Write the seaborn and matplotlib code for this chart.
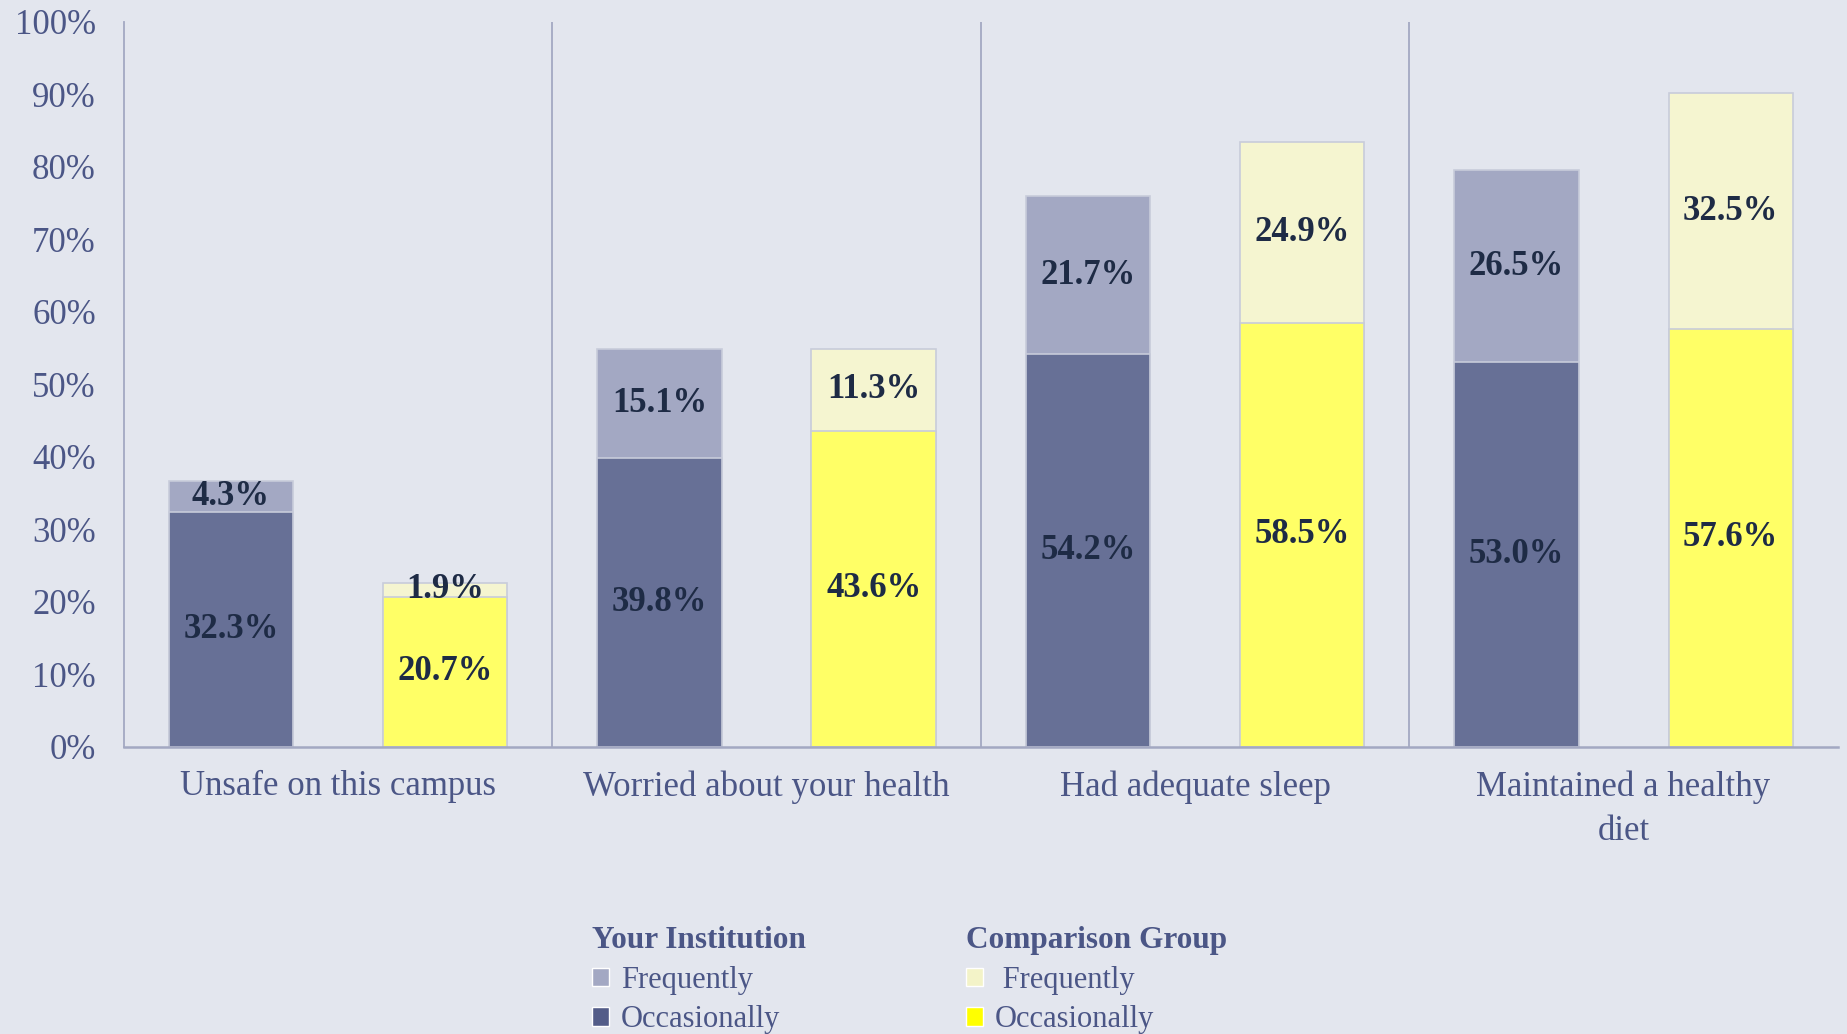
import pandas as pd
import matplotlib.pyplot as plt
import seaborn as sns
from matplotlib.patches import Patch

categories = ["Unsafe on this campus", "Worried about your health",
              "Had adequate sleep", "Maintained a healthy\ndiet"]
groups = ["Your Institution", "Comparison Group"]

inst_occasionally = [32.3, 39.8, 54.2, 53.0]
inst_frequently = [4.3, 15.1, 21.7, 26.5]
comp_occasionally = [20.7, 43.6, 58.5, 57.6]
comp_frequently = [1.9, 11.3, 24.9, 32.5]

bg = "#E3E6EE"
tick_col = "#4B5686"
label_col = "#1E2B45"
line_col = "#A3A8C2"

rows = []
for i, c in enumerate(categories):
    rows.append([c, groups[0], inst_occasionally[i], inst_frequently[i]])
    rows.append([c, groups[1], comp_occasionally[i], comp_frequently[i]])
df = pd.DataFrame(rows, columns=["Item", "Group", "Occasionally", "Frequently"])
df["Total"] = df["Occasionally"] + df["Frequently"]

sns.set_style("white")
plt.rcParams["font.family"] = ["Liberation Serif", "DejaVu Serif"]

fig, ax = plt.subplots(figsize=(18.47, 10.34), dpi=100)
fig.patch.set_facecolor(bg)
ax.set_facecolor(bg)
fig.subplots_adjust(left=0.067, right=0.995, bottom=0.278, top=0.979)

freq_pal = {groups[0]: "#A3A8C3", groups[1]: "#F5F5D0"}
occ_pal = {groups[0]: "#677096", groups[1]: "#FFFF66"}

sns.barplot(data=df, x="Item", y="Total", hue="Group", order=categories, hue_order=groups,
            palette=freq_pal, saturation=1, width=1.0, gap=0.42, edgecolor="#C8CCDA",
            linewidth=1.2, legend=False, ax=ax)
sns.barplot(data=df, x="Item", y="Occasionally", hue="Group", order=categories, hue_order=groups,
            palette=occ_pal, saturation=1, width=1.0, gap=0.42, edgecolor="#C8CCDA",
            linewidth=1.2, legend=False, ax=ax)

# value labels
offsets = [-0.25, 0.25]
for j, g in enumerate(groups):
    sub = df[df["Group"] == g].reset_index(drop=True)
    for i in range(len(sub)):
        occ = sub.loc[i, "Occasionally"]
        frq = sub.loc[i, "Frequently"]
        ax.text(i + offsets[j], occ / 2, f"{occ:.1f}%", ha="center", va="center",
                fontsize=25, fontweight="bold", color=label_col)
        ax.text(i + offsets[j], occ + frq / 2, f"{frq:.1f}%", ha="center", va="center",
                fontsize=25, fontweight="bold", color=label_col)

for x in [0.5, 1.5, 2.5]:
    ax.axvline(x, color=line_col, lw=1.3, zorder=0)

ax.set_xlim(-0.5, 3.5)
ax.set_ylim(0, 100)
ax.set_yticks(range(0, 101, 10))
ax.set_yticklabels([f"{v}%" for v in range(0, 101, 10)])
ax.set_xlabel("")
ax.set_ylabel("")
ax.tick_params(axis="y", length=0, labelsize=25, labelcolor=tick_col, pad=20)
ax.tick_params(axis="x", length=0, labelsize=25, labelcolor=tick_col, pad=17)
for lab in ax.get_xticklabels():
    lab.set_linespacing(1.45)

sns.despine(ax=ax, top=True, right=True)
ax.spines["left"].set_color(line_col)
ax.spines["bottom"].set_color(line_col)
ax.spines["left"].set_linewidth(1.3)
ax.spines["bottom"].set_linewidth(1.8)

# legends
h1 = [Patch(facecolor="#A3A8C3", label="Frequently"), Patch(facecolor="#535C88", label="Occasionally")]
h2 = [Patch(facecolor="#F3F3C8", label=" Frequently"), Patch(facecolor="#FFFF00", label="Occasionally")]
for handles, title, xpos in [(h1, groups[0], 0.3205), (h2, groups[1], 0.523)]:
    leg = fig.legend(handles=handles, title=title, loc="upper left", bbox_to_anchor=(xpos, 0.104),
                     frameon=False, fontsize=22, handlelength=0.55, handleheight=0.55,
                     handletextpad=0.4, labelspacing=0.34, borderpad=0, borderaxespad=0,
                     alignment="left", labelcolor=tick_col,
                     title_fontproperties={"size": 22.5, "weight": "bold"})
    leg.get_title().set_color(tick_col)

plt.savefig("out.png", dpi=100, facecolor=bg)
